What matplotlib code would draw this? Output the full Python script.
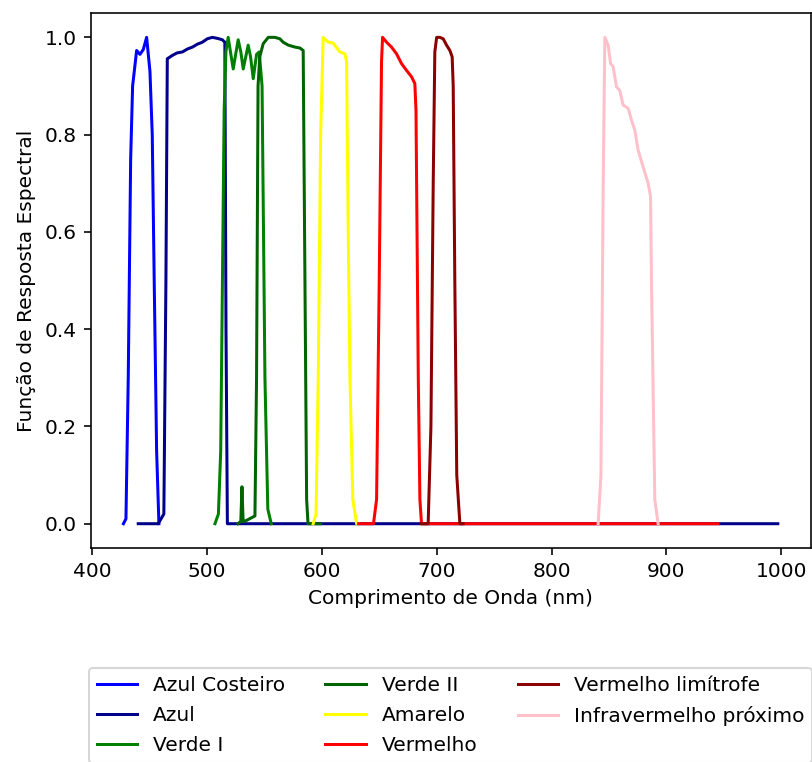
import matplotlib
matplotlib.use("Agg")
import matplotlib.pyplot as plt

# spectral response curves (wavelength nm, response)
azul_costeiro_wl = [427.3, 429.5, 431.5, 433.6, 435.3, 438.8, 441.7, 444.6, 447.5, 450.4, 452.4, 454.1, 456.2, 458.2]
azul_costeiro_r = [0.0, 0.01, 0.3, 0.75, 0.9, 0.973, 0.965, 0.975, 1.0, 0.93, 0.8, 0.5, 0.15, 0.0]

azul_wl = [440.2, 457.6, 462.5, 464.3, 465.5, 470, 474, 478.7, 483, 487.4, 491.7, 496, 500.3, 504.7, 509, 513.4, 515.6, 516.6, 517.8, 997]
azul_r = [0.0, 0.0, 0.02, 0.5, 0.956, 0.963, 0.968, 0.97, 0.976, 0.98, 0.986, 0.99, 0.997, 1.0, 0.998, 0.995, 0.99, 0.4, 0.0, 0.0]

verde1_wl = [507, 510, 512, 513.5, 515, 516.5, 518.5, 520.5, 522.9, 525, 527.2, 529.5, 531.6, 533.8, 535.9, 538, 540.3, 543.2, 545.5, 548, 550.5, 553, 556]
verde1_r = [0.0, 0.02, 0.15, 0.5, 0.85, 0.97, 1.0, 0.97, 0.935, 0.965, 0.995, 0.97, 0.935, 0.96, 0.984, 0.96, 0.915, 0.965, 0.97, 0.9, 0.3, 0.03, 0.0]

verde2_wl = [527, 529.5, 530.5, 531.5, 533, 541.8, 543.2, 544.5, 546, 549, 553.4, 559.2, 563.5, 566.4, 570.8, 576.6, 581, 583.8, 585, 586.8, 588, 599]
verde2_r = [0.0, 0.005, 0.076, 0.005, 0.005, 0.016, 0.3, 0.9, 0.96, 0.987, 1.0, 1.0, 0.997, 0.99, 0.984, 0.98, 0.978, 0.973, 0.6, 0.05, 0.0, 0.0]

amarelo_wl = [592.5, 595, 596.9, 599, 601.2, 605.6, 609.9, 615.7, 620.1, 621.6, 623, 624.5, 627, 630.3, 632]
amarelo_r = [0.0, 0.02, 0.3, 0.8, 1.0, 0.99, 0.988, 0.97, 0.966, 0.95, 0.6, 0.3, 0.05, 0.0, 0.0]

vermelho_wl = [632, 645, 647.7, 650, 652, 652.9, 656.4, 660.7, 665.1, 669.4, 673.8, 678.1, 681, 682, 684, 685.4, 686.8, 945]
vermelho_r = [0.0, 0.0, 0.05, 0.5, 0.95, 1.0, 0.99, 0.98, 0.966, 0.946, 0.932, 0.919, 0.905, 0.85, 0.3, 0.05, 0.0, 0.0]

limitrofe_wl = [686.8, 692.6, 695, 697, 698.4, 700, 702.8, 705.7, 708.6, 711.5, 713.5, 714.4, 715.8, 717.5, 720.2, 723]
limitrofe_r = [0.0, 0.0, 0.2, 0.7, 0.97, 1.0, 1.0, 0.997, 0.984, 0.973, 0.96, 0.9, 0.5, 0.1, 0.0, 0.0]

nir_wl = [840.6, 843, 845, 846.4, 849.3, 851.4, 853.6, 856.6, 859.4, 862.3, 866.7, 869.6, 872.5, 875.4, 879.7, 884.1, 886.2, 887, 889.9, 892.8]
nir_r = [0.0, 0.1, 0.7, 1.0, 0.984, 0.946, 0.94, 0.898, 0.891, 0.861, 0.854, 0.83, 0.809, 0.768, 0.734, 0.7, 0.673, 0.5, 0.05, 0.0]

bandas = [
    ("Azul Costeiro", azul_costeiro_wl, azul_costeiro_r, "blue"),
    ("Azul", azul_wl, azul_r, "darkblue"),
    ("Verde I", verde1_wl, verde1_r, "green"),
    ("Verde II", verde2_wl, verde2_r, "darkgreen"),
    ("Amarelo", amarelo_wl, amarelo_r, "yellow"),
    ("Vermelho", vermelho_wl, vermelho_r, "red"),
    ("Vermelho limítrofe", limitrofe_wl, limitrofe_r, "darkred"),
    ("Infravermelho próximo", nir_wl, nir_r, "pink"),
]

dpi = 144.7
fig = plt.figure(figsize=(812 / dpi, 762 / dpi), dpi=dpi)
ax = fig.add_axes([0.1117, 0.2808, 0.8865, 0.7021])

for nome, wl, r, cor in bandas:
    ax.plot(wl, r, color=cor, label=nome)

ax.set_xlabel("Comprimento de Onda (nm)")
ax.set_ylabel("Função de Resposta Espectral")
ax.legend(loc="upper center", bbox_to_anchor=(0.5, -0.205), ncol=3, labelspacing=0.56)

fig.savefig("out.png", dpi=dpi)
